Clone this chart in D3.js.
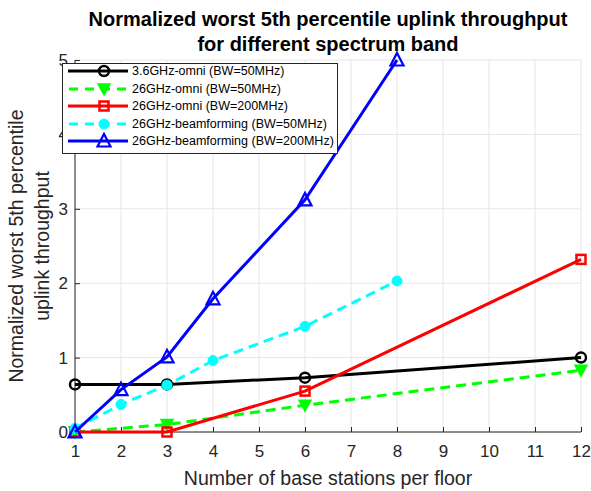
<!DOCTYPE html>
<html><head><meta charset="utf-8">
<script src="https://cdn.jsdelivr.net/npm/d3@7"></script>
<style>body{margin:0;background:#fff}svg{display:block}text{font-family:"Liberation Sans",Arial,sans-serif}</style>
</head><body>
<script>
const xTicks = [1,2,3,4,5,6,7,8,9,10,11,12];
const yTicks = [0,1,2,3,4,5];
const seriesNames = ["3.6GHz-omni (BW=50MHz)","26GHz-omni (BW=50MHz)","26GHz-omni (BW=200MHz)","26GHz-beamforming (BW=50MHz)","26GHz-beamforming (BW=200MHz)"];
const x36omni50 = [1,3,6,12];
const y36omni50 = [0.64,0.64,0.73,1.0];
const x26omni50 = [1,3,6,12];
const y26omni50 = [0,0.1,0.36,0.83];
const x26omni200 = [1,3,6,12];
const y26omni200 = [0,0,0.55,2.32];
const x26bf50 = [1,2,3,4,6,8];
const y26bf50 = [0.05,0.37,0.63,0.96,1.42,2.03];
const x26bf200 = [1,2,3,4,6,8];
const y26bf200 = [0,0.57,1.01,1.79,3.12,5.0];

const series = [
  {name:seriesNames[0], xs:x36omni50, ys:y36omni50, color:"#000000", dash:null, marker:"circleOpen"},
  {name:seriesNames[1], xs:x26omni50, ys:y26omni50, color:"#00ff00", dash:"10,6", marker:"triDownFilled"},
  {name:seriesNames[2], xs:x26omni200, ys:y26omni200, color:"#ff0000", dash:null, marker:"squareOpen"},
  {name:seriesNames[3], xs:x26bf50, ys:y26bf50, color:"#00ffff", dash:"10,6", marker:"circleFilled"},
  {name:seriesNames[4], xs:x26bf200, ys:y26bf200, color:"#0000ff", dash:null, marker:"triUpOpen"}
];

const W=591,H=491;
const L=75,R=581,T=60,B=432;
const svg=d3.select("body").append("svg").attr("width",W).attr("height",H);
const x=d3.scaleLinear().domain([1,12]).range([L,R]);
const y=d3.scaleLinear().domain([0,5]).range([B,T]);

// grid
const g=svg.append("g");
g.selectAll(".vg").data(xTicks).join("line").attr("x1",d=>x(d)).attr("x2",d=>x(d)).attr("y1",T).attr("y2",B).attr("stroke","#e6e6e6").attr("stroke-width",1);
g.selectAll(".hg").data(yTicks).join("line").attr("x1",L).attr("x2",R).attr("y1",d=>y(d)).attr("y2",d=>y(d)).attr("stroke","#e6e6e6").attr("stroke-width",1);

// axes
const xAxis=d3.axisBottom(x).tickValues(xTicks).tickSize(-5).tickPadding(13).tickFormat(d3.format("d"));
const yAxis=d3.axisLeft(y).tickValues(yTicks).tickSize(-5).tickPadding(7).tickFormat(d3.format("d"));
const gx=svg.append("g").attr("transform",`translate(0,${B})`).call(xAxis);
const gy=svg.append("g").attr("transform",`translate(${L},0)`).call(yAxis);
[gx,gy].forEach(a=>{
  a.select(".domain").attr("stroke","#262626").attr("stroke-width",1);
  a.selectAll(".tick line").attr("stroke","#262626");
  a.selectAll(".tick text").attr("fill","#262626").style("font-size","17px").style("font-family","'Liberation Sans',Arial,sans-serif");
});
gx.select(".domain").attr("d",`M${L},0H${R}`);
gy.select(".domain").attr("d",`M0,${B}V${T}`);

function drawMarker(sel,type,color){
  if(type==="circleOpen"){
    sel.append("circle").attr("r",5).attr("fill","none").attr("stroke",color).attr("stroke-width",2.5);
  } else if(type==="circleFilled"){
    sel.append("circle").attr("r",5).attr("fill",color).attr("stroke",color).attr("stroke-width",1);
  } else if(type==="squareOpen"){
    sel.append("rect").attr("x",-4.5).attr("y",-4.5).attr("width",9).attr("height",9).attr("fill","none").attr("stroke",color).attr("stroke-width",2.5);
  } else if(type==="triDownFilled"){
    sel.append("path").attr("d","M-6,-5L6,-5L0,6Z").attr("fill",color).attr("stroke",color).attr("stroke-width",1.5);
  } else if(type==="triUpOpen"){
    sel.append("path").attr("d","M-6.5,5.5L6.5,5.5L0,-7Z").attr("fill","none").attr("stroke",color).attr("stroke-width",2.2);
  }
}

const line=d3.line().x(d=>x(d[0])).y(d=>y(d[1]));
series.forEach(s=>{
  const pts=s.xs.map((v,i)=>[v,s.ys[i]]);
  svg.append("path").datum(pts).attr("d",line).attr("fill","none").attr("stroke",s.color).attr("stroke-width",3)
    .attr("stroke-dasharray",s.dash);
  pts.forEach(p=>{
    const m=svg.append("g").attr("transform",`translate(${x(p[0])},${y(p[1])})`);
    drawMarker(m,s.marker,s.color);
  });
});

// legend
const lg=svg.append("g");
lg.append("rect").attr("x",62.5).attr("y",63.5).attr("width",275).attr("height",90).attr("fill","#fff").attr("stroke","#262626").attr("stroke-width",1);
const ly=[71,89,106,124,141];
series.forEach((s,i)=>{
  lg.append("line").attr("x1",68).attr("x2",128).attr("y1",ly[i]).attr("y2",ly[i]).attr("stroke",s.color).attr("stroke-width",3).attr("stroke-dasharray",s.dash?"9,7":null).attr("stroke-dashoffset",s.dash?-1:null);
  const m=lg.append("g").attr("transform",`translate(104,${ly[i]})`);
  drawMarker(m,s.marker,s.color);
  lg.append("text").attr("x",132).attr("y",ly[i]).attr("dy","0.35em").style("font-size","12.5px").attr("fill","#000").text(s.name);
});

// title
svg.append("text").attr("x",(L+R)/2).attr("y",26).attr("text-anchor","middle").style("font-size","20px").style("font-weight","bold").text("Normalized worst 5th percentile uplink throughput");
svg.append("text").attr("x",(L+R)/2).attr("y",51).attr("text-anchor","middle").style("font-size","20px").style("font-weight","bold").text("for different spectrum band");
// x label
svg.append("text").attr("x",(L+R)/2).attr("y",485).attr("text-anchor","middle").style("font-size","19.5px").attr("fill","#262626").text("Number of base stations per floor");
// y label
const yl=svg.append("text").attr("transform",`translate(0,${(T+B)/2}) rotate(-90)`).attr("text-anchor","middle").style("font-size","19.5px").attr("fill","#262626");
yl.append("tspan").attr("x",0).attr("y",23).text("Normalized worst 5th percentile");
yl.append("tspan").attr("x",0).attr("y",49).text("uplink throughput");
</script>
</body></html>
